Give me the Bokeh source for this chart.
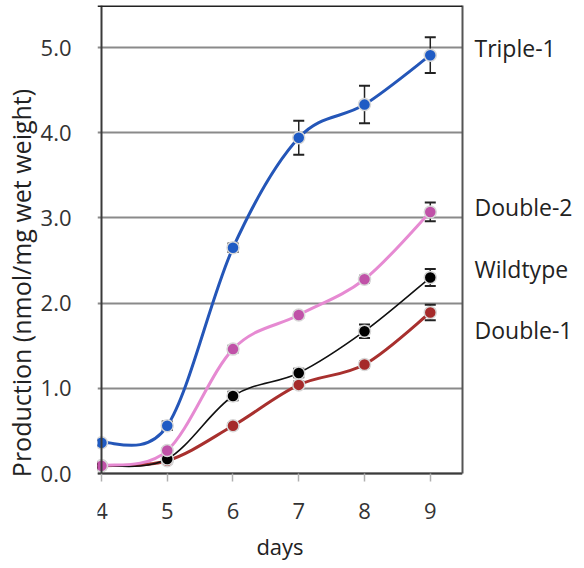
import numpy as np
from bokeh.plotting import figure
from bokeh.models import (Range1d, FixedTicker, Span, Whisker, ColumnDataSource,
                          CustomJSTickFormatter, LinearAxis)
from bokeh.embed import file_html
from bokeh.resources import INLINE

# ---- data ----
days = [4, 5, 6, 7, 8, 9]
triple1 = [0.36, 0.56, 2.65, 3.94, 4.33, 4.91]
double2 = [0.09, 0.27, 1.46, 1.86, 2.28, 3.07]
wildtype = [0.09, 0.17, 0.91, 1.18, 1.67, 2.30]
double1 = [0.09, 0.15, 0.56, 1.04, 1.28, 1.89]

err_triple1 = [0.03, 0.05, 0.05, 0.20, 0.22, 0.21]
err_double2 = [0.02, 0.03, 0.04, 0.03, 0.04, 0.11]
err_wildtype = [0.02, 0.03, 0.05, 0.05, 0.08, 0.10]
err_double1 = [0.02, 0.03, 0.03, 0.04, 0.04, 0.09]

series_names = ["Triple-1", "Double-2", "Wildtype", "Double-1"]
y_ticks = [0, 1, 2, 3, 4, 5]
x_ticks = [4, 5, 6, 7, 8, 9]

# label vertical anchors (layout, in data units)
label_y = [5.0, 3.13, 2.40, 1.69]

FONT = "Open Sans"
Y_TOP = 5.493
Y_BOTTOM = -1.021

p = figure(width=576, height=560, output_backend="svg", toolbar_location=None,
           x_range=Range1d(3.9396, 9.49), y_range=Range1d(Y_BOTTOM, Y_TOP),
           min_border_left=89, min_border_right=114, min_border_top=5, min_border_bottom=0,
           background_fill_color="white", border_fill_color="white")
p.outline_line_color = None

# grid
p.xgrid.grid_line_color = None
p.ygrid.ticker = FixedTicker(ticks=y_ticks)
p.ygrid.grid_line_color = "#8a8a8a"
p.ygrid.grid_line_width = 2

# x axis, pinned at y = 0
xa = p.xaxis[0]
xa.fixed_location = 0
xa.ticker = FixedTicker(ticks=x_ticks)
xa.axis_line_color = "#3a3a3a"
xa.axis_line_width = 2
xa.major_tick_out = 8
xa.major_tick_in = 0
xa.major_tick_line_color = "#b0b0b0"
xa.major_tick_line_width = 1.5
xa.minor_tick_line_color = None
xa.major_label_text_font = FONT
xa.major_label_text_font_size = "22px"
xa.major_label_text_color = "#333333"
xa.major_label_standoff = 21
xa.axis_label = "days"
xa.axis_label_text_font = FONT
xa.axis_label_text_font_size = "22px"
xa.axis_label_text_font_style = "normal"
xa.axis_label_text_color = "#222222"
xa.axis_label_standoff = 9

ya = p.yaxis[0]
ya.ticker = FixedTicker(ticks=y_ticks)
ya.bounds = (-0.138, 5.002)
ya.formatter = CustomJSTickFormatter(code="return tick.toFixed(1);")
ya.axis_line_color = None
ya.major_tick_out = 0
ya.major_tick_in = 0
ya.minor_tick_line_color = None
ya.major_label_text_font = FONT
ya.major_label_text_font_size = "22px"
ya.major_label_text_color = "#333333"
ya.major_label_standoff = 26
ya.axis_label = "Production (nmol/mg wet weight)"
ya.axis_label_text_font = FONT
ya.axis_label_text_font_size = "25px"
ya.axis_label_text_font_style = "normal"
ya.axis_label_text_color = "#222222"
ya.axis_label_standoff = 0

# left frame line at the first day
left_line = LinearAxis(fixed_location=x_ticks[0], bounds=(0, Y_TOP), ticker=FixedTicker(ticks=[]),
                       major_label_text_font_size="0px", axis_line_color="#3a3a3a", axis_line_width=2,
                       major_tick_line_color=None, minor_tick_line_color=None)
p.add_layout(left_line, "left")

# right axis carries the series names and acts as the right frame border
right = LinearAxis(ticker=FixedTicker(ticks=label_y), bounds=(0, Y_TOP),
                   formatter=CustomJSTickFormatter(
                       args=dict(names=series_names, pos=label_y),
                       code="""
let best = 0;
for (let i = 0; i < pos.length; i++) {
  if (Math.abs(pos[i] - tick) < Math.abs(pos[best] - tick)) best = i;
}
return names[best];
"""))
right.axis_line_color = "#555555"
right.axis_line_width = 2
right.major_tick_out = 0
right.major_tick_in = 0
right.minor_tick_line_color = None
right.major_label_text_font = FONT
right.major_label_text_font_size = "23px"
right.major_label_text_color = "#222222"
right.major_label_standoff = 12
p.add_layout(right, "right")

# top frame line
p.add_layout(Span(location=Y_TOP - 0.006, dimension="width", line_color="#222222", line_width=2))


def smooth_segments(xs, ys):
    xs = np.asarray(xs, float)
    ys = np.asarray(ys, float)
    n = len(xs)
    x0, y0, x1, y1, cx0, cy0, cx1, cy1 = [], [], [], [], [], [], [], []
    for i in range(n - 1):
        pm = i - 1 if i > 0 else i
        pp = i + 2 if i + 2 < n else i + 1
        x0.append(xs[i]); y0.append(ys[i])
        x1.append(xs[i + 1]); y1.append(ys[i + 1])
        cx0.append(xs[i] + (xs[i + 1] - xs[pm]) / 6.0)
        cy0.append(ys[i] + (ys[i + 1] - ys[pm]) / 6.0)
        cx1.append(xs[i + 1] - (xs[pp] - xs[i]) / 6.0)
        cy1.append(ys[i + 1] - (ys[pp] - ys[i]) / 6.0)
    return dict(x0=x0, y0=y0, x1=x1, y1=y1, cx0=cx0, cy0=cy0, cx1=cx1, cy1=cy1)


styles = [
    # name, values, errors, line color, line width, marker color
    ("Double-1", double1, err_double1, "#a8302e", 3, "#a52a2a"),
    ("Wildtype", wildtype, err_wildtype, "#111111", 1.6, "#000000"),
    ("Double-2", double2, err_double2, "#e68ad2", 3, "#c052a8"),
    ("Triple-1", triple1, err_triple1, "#2456b8", 3, "#1f5bc4"),
]

for name, vals, errs, lc, lw, mc in styles:
    seg = smooth_segments(days, vals)
    p.bezier(x0="x0", y0="y0", x1="x1", y1="y1", cx0="cx0", cy0="cy0", cx1="cx1", cy1="cy1",
             source=ColumnDataSource(seg), line_color=lc, line_width=lw)
    src = ColumnDataSource(dict(x=days, y=vals,
                                lo=[v - e for v, e in zip(vals, errs)],
                                hi=[v + e for v, e in zip(vals, errs)]))
    w = Whisker(base="x", lower="lo", upper="hi", source=src, line_color="#222222", line_width=1.5)
    w.upper_head.size = 11
    w.lower_head.size = 11
    w.upper_head.line_color = "#222222"
    w.lower_head.line_color = "#222222"
    w.upper_head.line_width = 2
    w.lower_head.line_width = 2
    p.add_layout(w)
    p.scatter(x="x", y="y", source=src, size=12, fill_color=mc, line_color="#d8d8d8", line_width=1.5)

open("out.html", "w").write(file_html(p, INLINE))
